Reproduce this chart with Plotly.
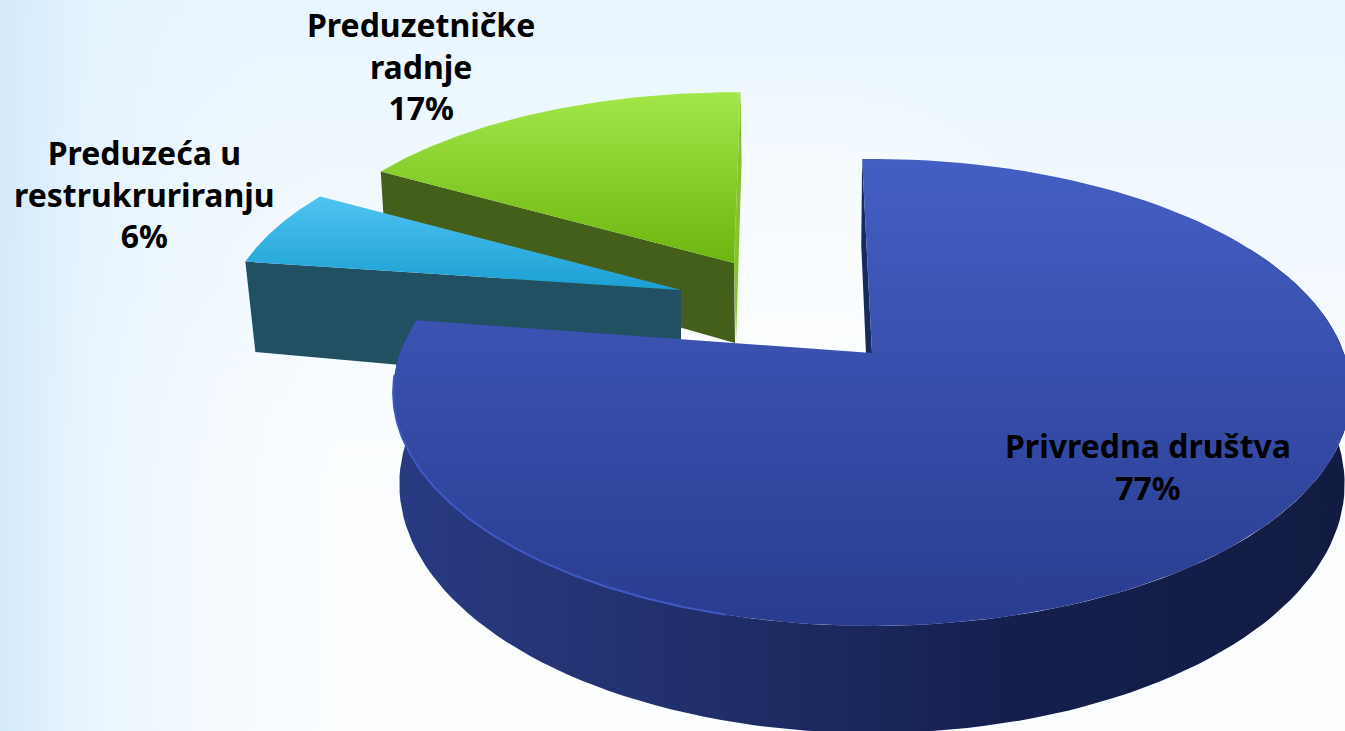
import base64
import numpy as np
import plotly.graph_objects as go

# ---- data ----
categories = ["Privredna društva", "Preduzetničke<br>radnje", "Preduzeća u<br>restrukruriranju"]
shares = [77, 17, 6]

# ---- drawing constants (pixel-mapped axes) ----
W, H = 1345, 731
R, K, P, DEPTH = 472.0, 226.8, 0.169, 89.0
START = -1.4
label_pos = [(1148, 466), (421, 66), (144, 194)]


def rim(apex, s, a0, a1, low=False, lowscale=0.987, n=120, sd=None):
    sx, sy = s
    sd = sy if sd is None else sd
    th = np.radians(np.linspace(a0, a1, n))
    f = 1 / (1 + P * np.cos(th))
    dx = R * sx * np.sin(th) * f
    dy = -K * sy * np.cos(th) * f
    if low:
        return apex[0] + dx * lowscale, apex[1] + dy + DEPTH * sd * f
    return apex[0] + dx, apex[1] + dy


def poly(x, y, colors, kind, start, stop, name):
    return go.Scatter(
        x=x, y=y, mode="lines", line=dict(width=0), fill="toself", name=name,
        fillgradient=dict(type=kind, start=start, stop=stop, colorscale=colors),
        hoverinfo="skip", showlegend=False)


def flat(x, y, color, name):
    return go.Scatter(x=x, y=y, mode="lines", line=dict(width=0), fill="toself",
                      fillcolor=color, name=name, hoverinfo="skip", showlegend=False)


# angular spans come from the shares
a_blue = (START, START + shares[0] * 3.6 + 2.7)
a_green = (2.4 + START - shares[1] * 3.6, 2.4 + START)
a_cyan = (a_green[0] - shares[2] * 3.6, a_green[0])

traces = []

# --- green slice ---
ag, sg = (734.0, 263.0), (0.935, 0.88)
rx, ry = rim(ag, sg, a_green[1], a_green[1], n=1)
traces.append(flat([rx[0], rx[0] + 1, ag[0] + 2, ag[0]], [ry[0], ry[0] + 70, ag[1] + 80, ag[1]], "#86c232", "green side"))
rx, ry = rim(ag, sg, a_green[0], a_green[0], n=1)
lx, ly = rim(ag, sg, a_green[0], a_green[0], low=True, n=1)
traces.append(flat([rx[0], ag[0], ag[0] + 1, lx[0]], [ry[0], ag[1], ag[1] + 80, ly[0]], "#445f1a", "green wall"))
ux, uy = rim(ag, sg, *a_green)
traces.append(poly(np.r_[ag[0], ux], np.r_[ag[1], uy],
                   [[0, "#a2e84a"], [1, "#6db50f"]], "vertical", 90, 263, "green top"))

# --- cyan slice ---
ac, sc = (681.0, 290.0), (0.955, 0.9)
rx, ry = rim(ac, sc, a_cyan[0], a_cyan[0], n=1)
lx, ly = rim(ac, sc, a_cyan[0], a_cyan[0], low=True, lowscale=0.977, n=1, sd=1.04)
traces.append(flat([rx[0], ac[0], ac[0], lx[0]], [ry[0], ac[1], ac[1] + 100, ly[0]], "#205062", "cyan wall"))
ux, uy = rim(ac, sc, *a_cyan)
traces.append(poly(np.r_[ac[0], ux], np.r_[ac[1], uy],
                   [[0, "#50c4f1"], [1, "#1a9ed2"]], "vertical", 195, 292, "cyan top"))

# --- blue slice ---
ab, sb = (872.0, 353.0), (1, 1)
rx, ry = rim(ab, sb, a_blue[0], a_blue[0], n=1)
lx, ly = rim(ab, sb, a_blue[0], a_blue[0], low=True, n=1)
traces.append(flat([rx[0], ab[0], ab[0] - 6, lx[0] - 1], [ry[0], ab[1], ab[1], ly[0] + 10], "#1a2860", "blue side"))
ox, oy = rim(ab, sb, 60, a_blue[1])
lx, ly = rim(ab, sb, 60, a_blue[1], low=True)
traces.append(poly(np.r_[ox, lx[::-1]], np.r_[oy, ly[::-1]],
                   [[0, "#283a82"], [0.35, "#202e68"], [0.65, "#141f4e"], [1, "#121c42"]],
                   "horizontal", 395, 1345, "blue wall"))
ux, uy = rim(ab, sb, *a_blue)
traces.append(poly(np.r_[ab[0], ux], np.r_[ab[1], uy],
                   [[0, "#445fc4"], [1, "#293c90"]], "vertical", 158, 626, "blue top"))
# light bevel on the front-left of the rim
bx, by = rim(ab, sb, 195, a_blue[1] - 14)
traces.append(go.Scatter(x=bx, y=by, mode="lines", line=dict(width=2, color="#4159c4"),
                         hoverinfo="skip", showlegend=False, name="bevel"))

fig = go.Figure(traces)

for lab, share, (x, y) in zip(categories, shares, label_pos):
    fig.add_annotation(x=x, y=y, text=f"{lab}<br>{share}%", showarrow=False, align="center",
                       xanchor="center", yanchor="middle",
                       font=dict(family="Noto Sans", size=32, color="#000000", weight="bold"))

svg = f"""<svg xmlns='http://www.w3.org/2000/svg' width='{W}' height='{H}'>
<defs>
<linearGradient id='l' x1='0' x2='1' y1='0' y2='0'>
<stop offset='0' stop-color='#d3eafc' stop-opacity='1'/><stop offset='0.07' stop-color='#e3f2fd' stop-opacity='.7'/><stop offset='0.25' stop-color='#eef7fe' stop-opacity='0'/></linearGradient>
<linearGradient id='t' x1='0' x2='0' y1='0' y2='1'>
<stop offset='0' stop-color='#e8f5fe' stop-opacity='1'/><stop offset='0.4' stop-color='#eef7fe' stop-opacity='.55'/><stop offset='0.7' stop-color='#fbfdff' stop-opacity='0'/></linearGradient>
<radialGradient id='c' gradientUnits='userSpaceOnUse' cx='800' cy='350' r='280'>
<stop offset='0' stop-color='#ffffff' stop-opacity='.6'/><stop offset='0.9' stop-color='#ffffff' stop-opacity='.22'/><stop offset='1' stop-color='#ffffff' stop-opacity='0'/></radialGradient>
</defs>
<rect width='{W}' height='{H}' fill='#fbfdff'/>
<rect width='{W}' height='{H}' fill='url(#t)'/>
<rect width='{W}' height='{H}' fill='url(#l)'/>
<rect width='{W}' height='{H}' fill='url(#c)'/>
</svg>"""
uri = "data:image/svg+xml;base64," + base64.b64encode(svg.encode()).decode()

fig.update_layout(
    width=W, height=H, margin=dict(l=0, r=0, t=0, b=0),
    paper_bgcolor="rgba(0,0,0,0)", plot_bgcolor="rgba(0,0,0,0)",
    xaxis=dict(range=[0, W], visible=False, fixedrange=True),
    yaxis=dict(range=[H, 0], visible=False, fixedrange=True),
    images=[dict(source=uri, xref="paper", yref="paper", x=0, y=1, sizex=1, sizey=1,
                 xanchor="left", yanchor="top", sizing="stretch", layer="below")],
)

fig.write_html("out.html", config={"displayModeBar": False},
               post_script="document.body.style.margin='0';document.body.style.overflow='hidden';")
